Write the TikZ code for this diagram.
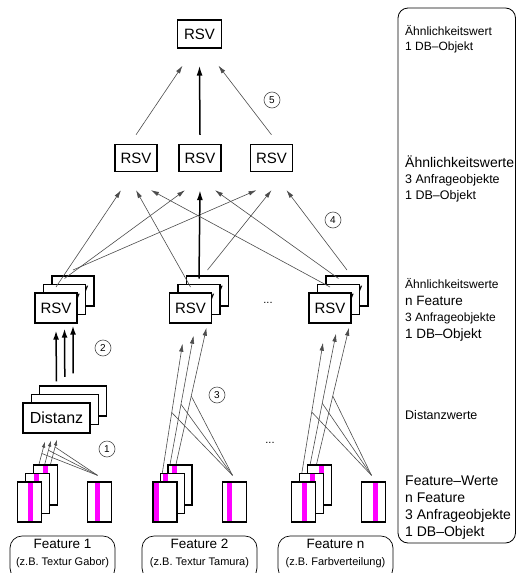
\documentclass[tikz,border=0pt]{standalone}
\usepackage{fontspec}
\setmainfont{Liberation Sans}
\usepackage{tikz}
\usetikzlibrary{arrows.meta,calc,backgrounds}
\newcommand{\fsz}[2]{\fontsize{#1}{#2}\selectfont}
\definecolor{stripe}{RGB}{255,0,255}
\tikzset{
  link/.style={-{Latex[length=8pt,width=4.5pt]}, line width=0.6pt, draw=black!70},
  mainlink/.style={-{Latex[length=10pt,width=6pt]}, line width=1.5pt, draw=black},
  rsv/.style={draw, line width=1.4pt, fill=white, minimum width=42pt, minimum height=28pt, inner sep=0pt, font=\fsz{15}{15}}
}

\begin{document}
\begin{tikzpicture}[x=1pt, y=-1pt,
  stackbox/.style={rsv, minimum height=30pt},
  distbox/.style={draw, line width=1.1pt, fill=white, minimum width=67pt, minimum height=30pt, inner sep=0pt, font=\fsz{16}{16}},
  featbar/.style={draw, line width=1.3pt, fill=white, minimum width=24pt, minimum height=40pt, inner sep=0pt,
    path picture={\fill[stripe] ([xshift=#1]path picture bounding box.south west) rectangle ++(5pt,40pt);}},
  featbar/.default=9pt,
  smalllink/.style={link, -{Latex[length=6pt,width=3.5pt]}},
  feed/.style={line width=0.6pt, draw=black!70},
  distlink/.style={mainlink, -{Latex[length=9pt,width=6pt]}},
  numcirc/.style={circle, draw=black!70, line width=0.6pt, minimum size=16pt, inner sep=0pt, font=\fsz{10}{10}},
  frame/.style={draw, line width=0.7pt, rounded corners=12pt},
  featname/.style={align=center, inner sep=0pt, font=\fsz{13.5}{17}},
  legendtext/.style={anchor=west, align=left, inner sep=0pt}
]
\useasboundingbox (0,0) rectangle (516,573);

% result for the DB object
\node[rsv, minimum width=44pt] (top) at (199.5,34) {RSV};

% one value per query object
\node[rsv, minimum height=27pt] (rsvA) at (136,158) {RSV};
\node[rsv, minimum height=27pt] (rsvB) at (200,158) {RSV};
\node[rsv, minimum height=27pt] (rsvC) at (271.5,158) {RSV};

\draw[link] ([yshift=9pt]rsvA.north) -- ([xshift=-17pt,yshift=-17pt]top.south);
\draw[mainlink] ([yshift=9pt]rsvB.north) -- ([yshift=-17pt]top.south);
\draw[link] ([yshift=9pt]rsvC.north) -- ([xshift=19pt,yshift=-17pt]top.south);

% one value per feature and query object
\node[stackbox] (sA3) at (73,291) {RSV};
\node[stackbox] (sA2) at (64.5,299.5) {RSV};
\node[stackbox] (sA1) at (56,308) {RSV};
\node[stackbox] (sB3) at (207.5,291) {RSV};
\node[stackbox] (sB2) at (199,299.5) {RSV};
\node[stackbox] (sB1) at (190.5,308) {RSV};
\node[stackbox] (sN3) at (347,291) {RSV};
\node[stackbox] (sN2) at (338.5,299.5) {RSV};
\node[stackbox] (sN1) at (330,308) {RSV};
\node[font=\fsz{11}{11}] (dotsUp) at (268,303) {...};

\draw[link] ([yshift=21pt]sA1.center) -- ([xshift=-15pt,yshift=-18pt]rsvA.south);
\draw[link] ([yshift=21pt]sA2.center) -- ([xshift=-15pt,yshift=-18pt]rsvB.south);
\draw[link] ([yshift=21pt]sA3.center) -- ([xshift=-15pt,yshift=-18pt]rsvC.south);
\draw[link] ([yshift=21pt]sB1.center) -- ([yshift=-18pt]rsvA.south);
\draw[mainlink] ([yshift=21pt]sB2.center) -- ([yshift=-18pt]rsvB.south);
\draw[link] ([yshift=21pt]sB3.center) -- ([yshift=-18pt]rsvC.south);
\draw[link] ([yshift=21pt]sN1.center) -- ([xshift=15pt,yshift=-18pt]rsvA.south);
\draw[link] ([yshift=21pt]sN2.center) -- ([xshift=15pt,yshift=-18pt]rsvB.south);
\draw[link] ([yshift=21pt]sN3.center) -- ([xshift=15pt,yshift=-18pt]rsvC.south);

% distances for feature 1
\node[distbox] (d3) at (73.1,401) {Distanz};
\node[distbox] (d2) at (64.8,409.5) {Distanz};
\node[distbox] (d1) at (56.5,418) {Distanz};

\draw[distlink] ([yshift=21pt]d1.north) -- ([yshift=-7pt]sA1.south);
\draw[distlink] ([yshift=17pt]d2.north) -- ([yshift=-13.5pt]sA2.south);
\draw[distlink] ([yshift=12pt]d3.north) -- ([yshift=-19pt]sA3.south);
\node[font=\fsz{11}{11}] (dotsLow) at (270,443) {...};

% feature values: three query objects and one DB object
\node[featbar=9pt] (fA3) at (45.5,485) {};
\node[featbar=8pt] (fA2) at (37.5,493.5) {};
\node[featbar=10pt] (fA1) at (29.5,502) {};
\node[featbar=7.5pt] (fAd) at (99.5,502) {};
\node[featbar=4pt] (fB3) at (180,485) {};
\node[featbar=2.5pt] (fB2) at (172.5,493.5) {};
\node[featbar=0.5pt] (fB1) at (165,502) {};
\node[featbar=4.5pt] (fBd) at (234.5,502) {};
\node[featbar=11.5pt] (fN3) at (319.5,485) {};
\node[featbar=10.5pt] (fN2) at (311.5,493.5) {};
\node[featbar=10.5pt] (fN1) at (303.5,502) {};
\node[featbar=11.5pt] (fNd) at (373.5,502) {};

\begin{scope}[on background layer]
\foreach \k/\dx/\dy in {1/-11.5/-8, 2/-5.5/-7, 3/0.5/-6} {
  \coordinate (qA\k) at ([xshift=5pt]fA\k.north);
  \coordinate (tA\k) at ([xshift=\dx pt,yshift=\dy pt]d1.south);
  \coordinate (jA\k) at ($(qA\k)!0.7!(tA\k)$);
  \draw[smalllink] (qA\k) -- (tA\k);
  \draw[feed] ([xshift=-2pt,yshift=6pt]fAd.north) -- (jA\k);
}
\foreach \k/\dx/\dy in {1/-8/-20, 2/3/-12, 3/16/-4} {
  \coordinate (qB\k) at ([xshift=-4pt]fB\k.north);
  \coordinate (tB\k) at ([xshift=\dx pt,yshift=\dy pt]sB1.south);
  \coordinate (jB\k) at ($(qB\k)!0.5!(tB\k)$);
  \draw[link] (qB\k) -- (tB\k);
  \draw[feed] ([xshift=-2pt,yshift=6pt]fBd.north) -- (jB\k);
}
\foreach \k/\dx/\dy in {1/-7/-19, 2/6/-10, 3/19/-4} {
  \coordinate (qN\k) at ([xshift=-3pt]fN\k.north);
  \coordinate (tN\k) at ([xshift=\dx pt,yshift=\dy pt]sN1.south);
  \coordinate (jN\k) at ($(qN\k)!0.5!(tN\k)$);
  \draw[link] (qN\k) -- (tN\k);
  \draw[feed] ([xshift=-2pt,yshift=6pt]fNd.north) -- (jN\k);
}
\end{scope}

% step numbers
\node[numcirc] (c1) at (107,449) {1};
\node[numcirc] (c2) at (103,348) {2};
\node[numcirc] (c3) at (217,395) {3};
\node[numcirc] (c4) at (333,220) {4};
\node[numcirc] (c5) at (272,100) {5};

% feature names
\node[frame, minimum width=105pt, minimum height=44pt] (frameA) at (62.5,558) {};
\node[frame, minimum width=115pt, minimum height=44pt] (frameB) at (199.5,558) {};
\node[frame, minimum width=115pt, minimum height=44pt] (frameN) at (335.5,558) {};
\node[featname] (labA) at ([yshift=4.5pt]frameA.center) {Feature 1\\{\fsz{11}{17}(z.B. Textur Gabor)}};
\node[featname] (labB) at ([yshift=4.5pt]frameB.center) {Feature 2\\{\fsz{11}{17}(z.B. Textur Tamura)}};
\node[featname] (labN) at ([yshift=4.5pt]frameN.center) {Feature n\\{\fsz{11}{17}(z.B. Farbverteilung)}};

% legend
\node[draw, line width=0.8pt, rounded corners=10pt, minimum width=117.5pt, minimum height=535pt] (legend) at (456.75,275.5) {};
\node[legendtext, font=\fsz{12}{15}] (capA) at (405,39.5) {Ähnlichkeitswert\\1 DB–Objekt};
\node[legendtext, font=\fsz{12.5}{16}] (capB) at (405,179) {{\fsz{14}{16}Ähnlichkeitswerte}\\3 Anfrageobjekte\\1 DB–Objekt};
\node[legendtext, font=\fsz{13.5}{16.7}] (capC) at (405,310) {{\fsz{12}{16.7}Ähnlichkeitswerte}\\n Feature\\{\fsz{12}{16.7}3 Anfrageobjekte}\\1 DB–Objekt};
\node[legendtext, font=\fsz{12.5}{15}] (capD) at (405,415) {Distanzwerte};
\node[legendtext, font=\fsz{14}{17}] (capE) at (405,507.5) {Feature–Werte\\n Feature\\3 Anfrageobjekte\\1 DB–Objekt};
\end{tikzpicture}
\end{document}
